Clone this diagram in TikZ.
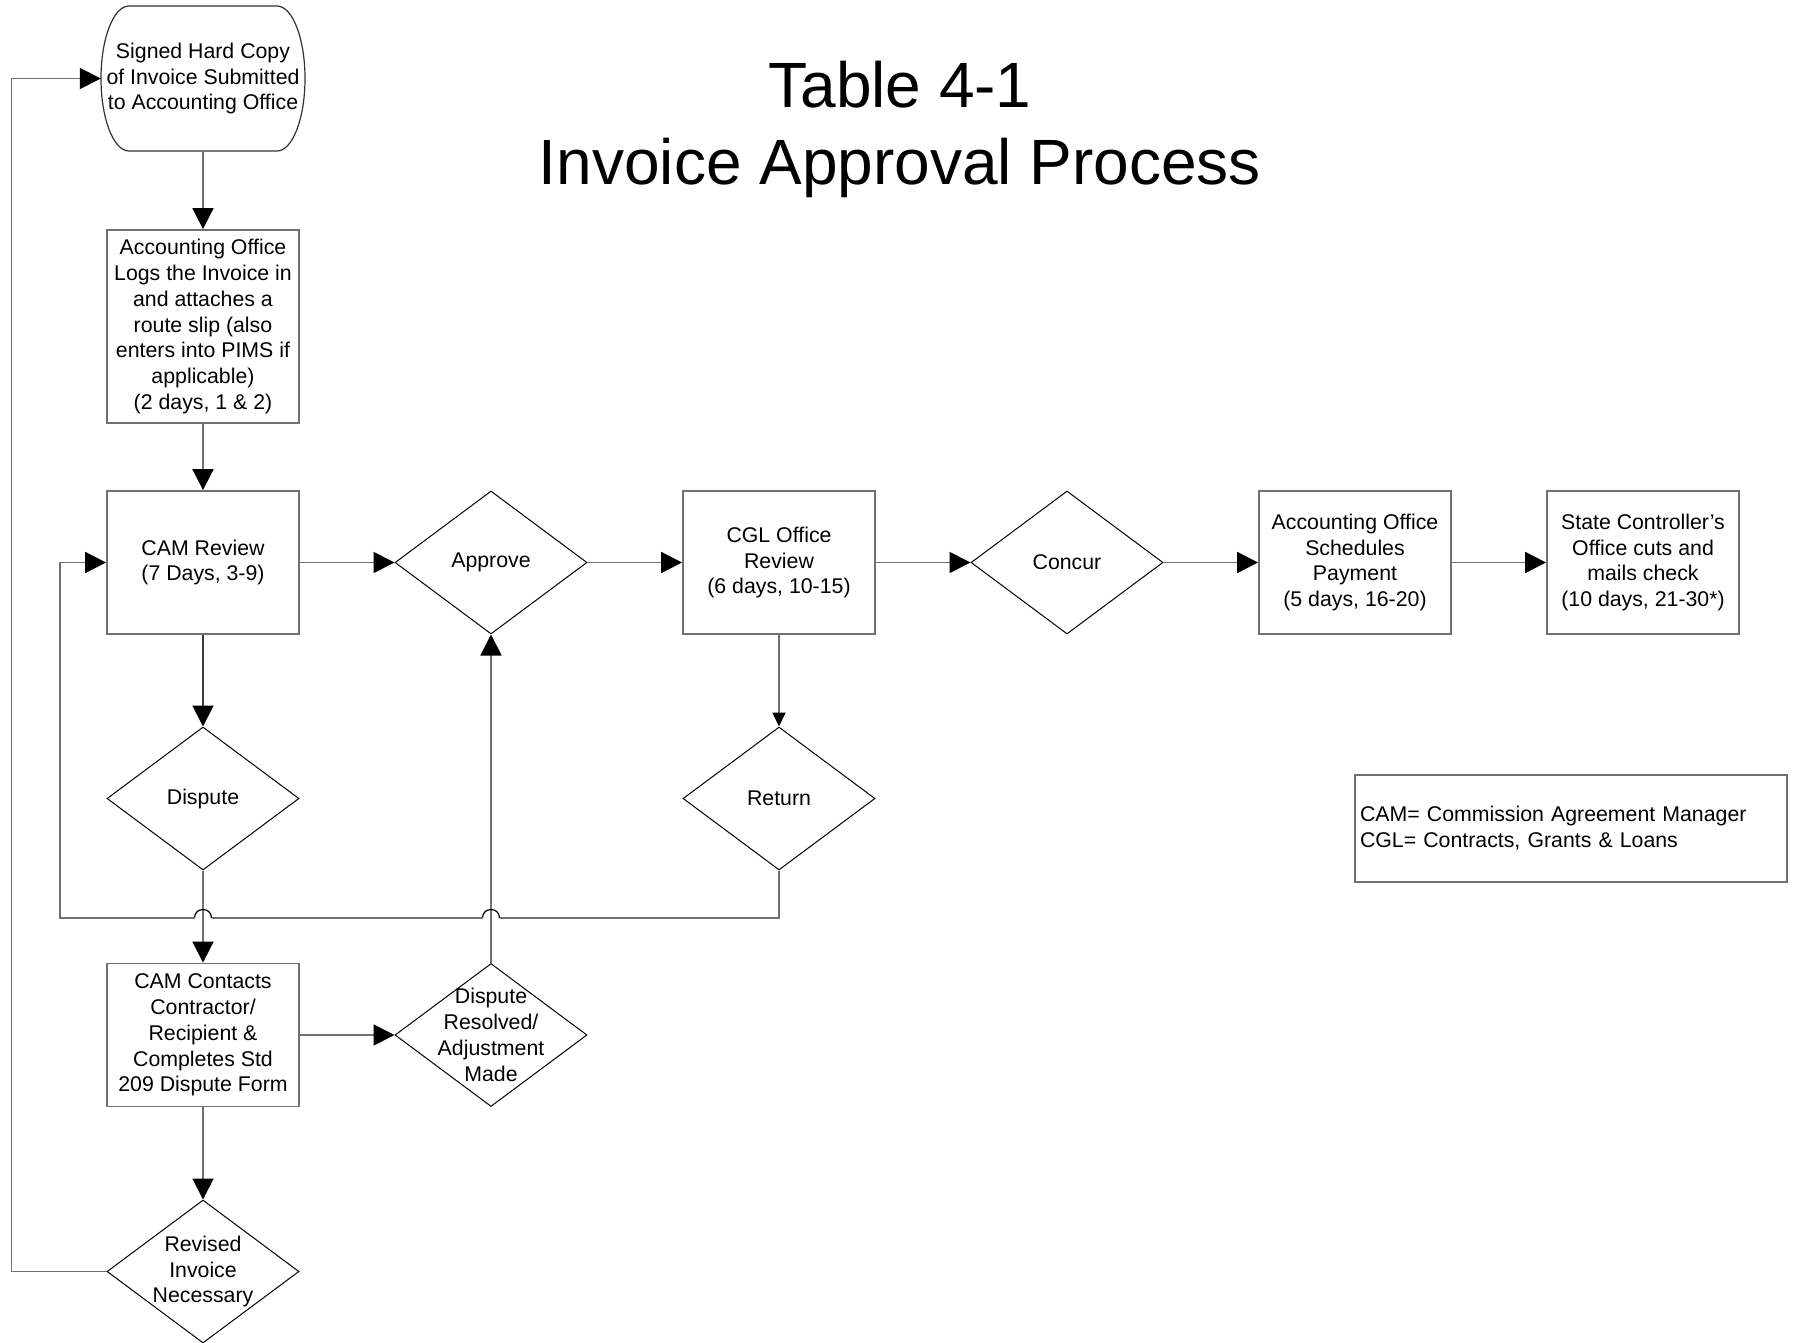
\documentclass[tikz,border=0pt]{standalone}
\usepackage{fontspec}
\setmainfont{Liberation Sans}
\usetikzlibrary{arrows.meta,shapes.geometric}
\definecolor{lineg}{HTML}{707070}
\definecolor{darkl}{HTML}{3A3A3A}
\tikzset{
  every node/.style={font=\fontsize{21.3}{25.8}\selectfont},
  procbox/.style={rectangle,draw=lineg,line width=1.8pt,minimum width=192pt,minimum height=143pt,inner sep=0pt,align=center},
  decis/.style={diamond,draw=black,line width=1pt,minimum width=192pt,minimum height=143pt,inner sep=0pt},
  dtext/.style={align=center,inner sep=0pt},
  conn/.style={draw=lineg,line width=1.8pt},
  bigtip/.style={-{Triangle[length=21pt,width=21pt,color=black]}},
  smalltip/.style={-{Triangle[length=14pt,width=13pt,color=black]}},
  hopline/.style={draw=black,line width=1.2pt},
  titlef/.style={font=\fontsize{64}{74}\selectfont,anchor=base,inner sep=0pt}
}
\begin{document}
\begin{tikzpicture}[x=1pt,y=-1pt]
\fill[white] (0,0) rectangle (1798,1343);
\useasboundingbox (0,0) rectangle (1798,1343);

% title
\node[titlef] (t1) at (900,108) {Table 4-1};
\node[titlef] (t2) at (900,185) {Invoice Approval Process};

% terminal
\draw[draw=black!80,line width=1.2pt] (129,6) -- (277,6)
  .. controls (292.5,6) and (305,38.5) .. (305,78.5)
  .. controls (305,118.5) and (292.5,151) .. (277,151)
  -- (129,151)
  .. controls (113.5,151) and (101,118.5) .. (101,78.5)
  .. controls (101,38.5) and (113.5,6) .. (129,6) -- cycle;
\node[rectangle,minimum width=204pt,minimum height=145pt,inner sep=0pt,align=center] (term) at (203,78.5)
  {Signed Hard Copy\\of Invoice Submitted\\to Accounting Office};

% process boxes
\node[procbox,minimum height=193pt] (acc) at (203,326.5)
  {Accounting Office\\Logs the Invoice in\\and attaches a\\route slip (also\\enters into PIMS if\\applicable)\\(2 days, 1 \& 2)};
\node[procbox] (cam) at (203,562.5) {CAM Review\\(7 Days, 3-9)};
\node[procbox] (cgl) at (779,562.5) {CGL Office\\Review\\(6 days, 10-15)};
\node[procbox] (sched) at (1355,562.5) {Accounting Office\\Schedules\\Payment\\(5 days, 16-20)};
\node[procbox] (sco) at (1643,562.5) {State Controller’s\\Office cuts and\\mails check\\(10 days, 21-30*)};
\node[procbox] (cc) at (203,1035) {CAM Contacts\\Contractor/\\Recipient \&\\Completes Std\\209 Dispute Form};

% decisions
\node[decis] (appr) at (491,562.5) {};
\node[dtext] at (appr) {Approve};
\node[decis] (conc) at (1067,562.5) {};
\node[dtext] at (conc) {Concur};
\node[decis] (disp) at (203,798.5) {};
\node[dtext] at (disp) {Dispute};
\node[decis] (ret) at (779,798.5) {};
\node[dtext] at (ret) {Return};
\node[decis] (dres) at (491,1035) {};
\node[dtext] at (dres) {Dispute\\Resolved/\\Adjustment\\Made};
\node[decis] (rev) at (203,1271.5) {};
\node[dtext] at (rev) {Revised\\Invoice\\Necessary};

% legend
\node[rectangle,draw=lineg,line width=1.5pt,minimum width=432pt,minimum height=107pt,inner sep=5pt,text width=422pt,align=left] (leg) at (1571,828.5)
  {CAM= Commission Agreement Manager\\CGL= Contracts, Grants \& Loans};

% connectors
\draw[conn,bigtip] (term.south) -- (acc.north);
\draw[conn,bigtip] (acc.south) -- (cam.north);
\draw[conn,bigtip] (cam.east) -- (appr.west);
\draw[conn,bigtip] (appr.east) -- (cgl.west);
\draw[conn,bigtip] (cgl.east) -- (conc.west);
\draw[conn,bigtip] (conc.east) -- (sched.west);
\draw[conn,bigtip] (sched.east) -- (sco.west);
\draw[draw=darkl,line width=2pt,bigtip] (cam.south) -- (disp.north);
\draw[conn,smalltip] (cgl.south) -- (ret.north);
\draw[conn,bigtip] (disp.south) -- (cc.north);
\draw[conn,bigtip] (dres.north) -- (appr.south);
\draw[conn,bigtip] (cc.east) -- (dres.west);
\draw[conn,bigtip] (cc.south) -- (rev.north);
\draw[conn,bigtip] (rev.west) -- ++(-95,0) |- (term.west);

% return loop with line hops
\coordinate (hopB) at (499.5,918);
\coordinate (hopA) at (211.5,918);
\draw[conn] (ret.south) |- (hopB);
\draw[hopline] (hopB) .. controls (499.5,906.7) and (482.5,906.7) .. (482.5,918);
\draw[conn] (482.5,918) -- (hopA);
\draw[hopline] (hopA) .. controls (211.5,906.7) and (194.5,906.7) .. (194.5,918);
\draw[conn,bigtip] (194.5,918) -- (60,918) |- (cam.west);
\end{tikzpicture}
\end{document}
